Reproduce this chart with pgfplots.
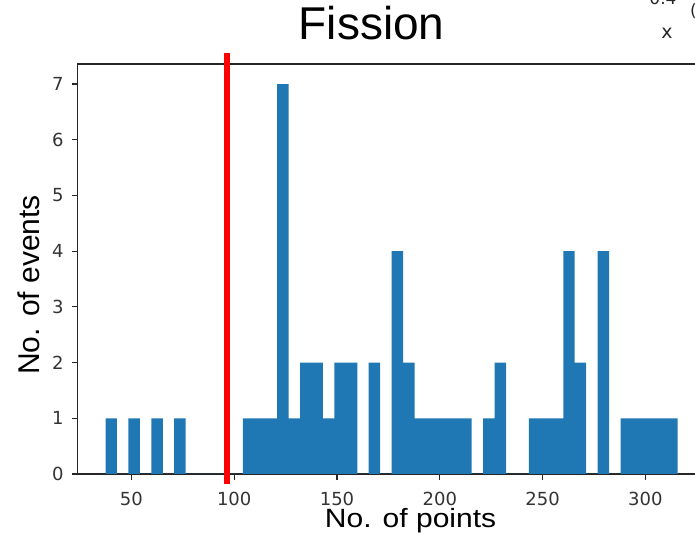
\documentclass[border=0pt]{standalone}
\usepackage{pgfplots}
\pgfplotsset{compat=1.18}
\usepackage{fontspec}
\setmainfont{Liberation Sans}
\newfontfamily\ticfont{DejaVu Sans}
\definecolor{barblue}{HTML}{1F77B4}

\pgfplotstableread{
x h
37.40 1
42.97 0
48.53 1
54.10 0
59.67 1
65.24 0
70.80 1
76.37 0
81.94 0
87.50 0
93.07 0
98.64 0
104.20 1
109.77 1
115.34 1
120.91 7
126.47 1
132.04 2
137.61 2
143.17 1
148.74 2
154.31 2
159.87 0
165.44 2
171.01 0
176.58 4
182.14 2
187.71 1
193.28 1
198.84 1
204.41 1
209.98 1
215.54 0
221.11 1
226.68 2
232.25 0
237.81 0
243.38 1
248.95 1
254.51 1
260.08 4
265.65 2
271.21 0
276.78 4
282.35 0
287.92 1
293.48 1
299.05 1
304.62 1
310.18 1
315.75 0
}\histdata

\begin{document}
\begin{tikzpicture}
\path[use as bounding box] (0,0) rectangle (695bp,536bp);
\begin{axis}[
  at={(77.8bp,62bp)}, anchor=south west,
  scale only axis, width=629bp, height=410bp,
  xmin=23.9, xmax=329.9, ymin=0, ymax=7.36,
  clip=false,
  axis line style={black!85, line width=1.2bp},
  tick style={black!85, line width=1.2bp},
  tick align=outside, major tick length=6bp,
  tick pos=left,
  xtick={50,100,...,300}, ytick={0,1,...,7},
  /pgf/number format/assume math mode=true,
  tick label style={font=\ticfont\fontsize{18bp}{21bp}\selectfont, text=black!80, inner sep=0pt},
  xticklabel style={anchor=north, yshift=-12bp},
  yticklabel style={anchor=east, xshift=-8bp},
  xlabel={\scalebox{1}[0.88]{No. of points}},
  xlabel style={at={(axis description cs:0.529,-0.1317)}, anchor=base, font=\fontsize{30bp}{36bp}\selectfont, inner sep=0pt},
  ylabel={No. of events},
  ylabel style={at={(axis description cs:-0.0604,0.461)}, anchor=base, font=\fontsize{30bp}{36bp}\selectfont, inner sep=0pt},
  title={Fission},
  title style={at={(axis description cs:0.467,1.0463)}, anchor=base, font=\fontsize{46bp}{55bp}\selectfont, inner sep=0pt},
]
\addplot[fill=barblue, draw=none, const plot mark left] table[x=x, y=h] {\histdata} \closedcycle;
\addplot[red, line width=6bp] coordinates {(96.3,-0.18) (96.3,7.56)};
\end{axis}
\node[font=\ticfont\fontsize{19bp}{22bp}\selectfont, text=black!85, anchor=base] at (667bp,497bp) {x};
\node[font=\ticfont\fontsize{17bp}{20bp}\selectfont, text=black!85, anchor=base] at (663bp,531bp) {0.4};
\node[font=\ticfont\fontsize{17bp}{20bp}\selectfont, text=black!85, anchor=base west, inner sep=0pt] at (690bp,519bp) {(};
\end{tikzpicture}
\end{document}
